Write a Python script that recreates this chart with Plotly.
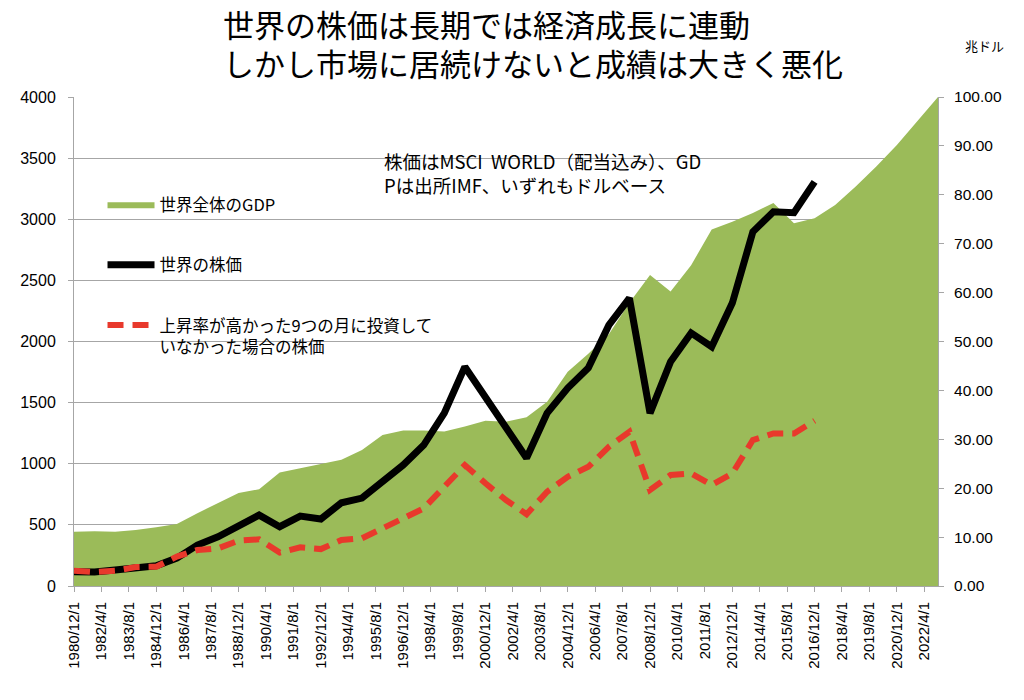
import plotly.graph_objects as go

# ── Data ─────────────────────────────────────────────────────────────────────
years = [1980, 1981, 1982, 1983, 1984, 1985, 1986, 1987, 1988, 1989,
         1990, 1991, 1992, 1993, 1994, 1995, 1996, 1997, 1998, 1999,
         2000, 2001, 2002, 2003, 2004, 2005, 2006, 2007, 2008, 2009,
         2010, 2011, 2012, 2013, 2014, 2015, 2016, 2017, 2018, 2019,
         2020, 2021, 2022]

# world GDP, trillion USD (right axis)
gdp = [11.1, 11.2, 11.1, 11.45, 12.0, 12.7, 14.9, 17.0, 19.0, 19.8,
       23.2, 24.1, 24.9, 25.8, 27.8, 30.9, 31.8, 31.8, 31.6, 32.6,
       33.8, 33.6, 34.5, 37.7, 43.8, 47.5, 51.5, 57.9, 63.6, 60.2,
       65.6, 72.9, 74.5, 76.3, 78.3, 74.2, 75.2, 77.9, 81.7, 85.8,
       90.2, 95.0, 100.0]

# world stock index (MSCI WORLD incl. dividends), left axis, 1980-2016
stock = [117, 115, 130, 155, 166, 228, 335, 403, 499, 580,
         485, 572, 548, 681, 719, 853, 989, 1153, 1414, 1793,
         1548, 1303, 1047, 1414, 1619, 1783, 2134, 2355, 1414, 1834,
         2070, 1957, 2314, 2897, 3061, 3053, 3306]

# same index, skipping the 9 best months
stock_ex9 = [125, 114, 125, 155, 158, 240, 294, 308, 371, 382,
             273, 316, 302, 376, 390, 472, 545, 635, 812, 989,
             840, 703, 587, 771, 894, 975, 1139, 1262, 785, 908,
             921, 826, 921, 1194, 1248, 1248, 1352]

tick_dates = ['1980-12-01', '1982-04-01', '1983-08-01', '1984-12-01',
              '1986-04-01', '1987-08-01', '1988-12-01', '1990-04-01',
              '1991-08-01', '1992-12-01', '1994-04-01', '1995-08-01',
              '1996-12-01', '1998-04-01', '1999-08-01', '2000-12-01',
              '2002-04-01', '2003-08-01', '2004-12-01', '2006-04-01',
              '2007-08-01', '2008-12-01', '2010-04-01', '2011-08-01',
              '2012-12-01', '2014-04-01', '2015-08-01', '2016-12-01',
              '2018-04-01', '2019-08-01', '2020-12-01', '2022-04-01']
tick_text = ['1980/12/1', '1982/4/1', '1983/8/1', '1984/12/1',
             '1986/4/1', '1987/8/1', '1988/12/1', '1990/4/1',
             '1991/8/1', '1992/12/1', '1994/4/1', '1995/8/1',
             '1996/12/1', '1998/4/1', '1999/8/1', '2000/12/1',
             '2002/4/1', '2003/8/1', '2004/12/1', '2006/4/1',
             '2007/8/1', '2008/12/1', '2010/4/1', '2011/8/1',
             '2012/12/1', '2014/4/1', '2015/8/1', '2016/12/1',
             '2018/4/1', '2019/8/1', '2020/12/1', '2022/4/1']

title_lines = ['世界の株価は長期では経済成長に連動',
               'しかし市場に居続けないと成績は大きく悪化']

# ── Style ────────────────────────────────────────────────────────────────────
_GREEN = '#9bbb59'
_BLACK = '#000000'
_RED = '#e8392c'
_GRID = '#a6a6a6'
_JP = 'Noto Sans CJK JP'
_NUM = 'Liberation Sans'

xs = [f'{y}-12-01' for y in years]
xs_stock = xs[:len(stock)]

fig = go.Figure()

# GDP area on the main y axis (shown on the right) so it stays under the lines
fig.add_trace(go.Scatter(
    x=xs, y=gdp, name='世界全体のGDP',
    mode='lines', fill='tozeroy', fillcolor=_GREEN,
    line=dict(color=_GREEN, width=0),
    legendgroup='g1', yaxis='y',
))
fig.add_trace(go.Scatter(
    x=xs_stock, y=stock, name='世界の株価',
    mode='lines', line=dict(color=_BLACK, width=7),
    legendgroup='g2', yaxis='y2',
))
fig.add_trace(go.Scatter(
    x=xs_stock, y=stock_ex9,
    name='上昇率が高かった9つの月に投資して<br>いなかった場合の株価',
    mode='lines', line=dict(color=_RED, width=6, dash='16px,9px'),
    legendgroup='g3', yaxis='y2',
))

# the page body adds an 8px offset, margins are set with that in mind
fig.update_layout(
    width=1024, height=700,
    margin=dict(l=66, r=94, t=89, b=122),
    paper_bgcolor='white', plot_bgcolor='white',
    font=dict(family=_JP, color='#000000', size=15),
    showlegend=True,
    legend=dict(
        x=0.033, y=0.816, xanchor='left', yanchor='top',
        bgcolor='rgba(0,0,0,0)',
        font=dict(family=_JP, size=16.5),
        tracegroupgap=36, valign='top',
        traceorder='grouped', itemwidth=47,
    ),
    xaxis=dict(
        type='date',
        range=['1980-12-01', '2022-12-01'],
        tickmode='array', tickvals=tick_dates, ticktext=tick_text,
        tickangle=-90, tickfont=dict(family=_NUM, size=15),
        ticks='outside', ticklen=5, tickcolor=_GRID, ticklabelstandoff=4,
        showline=True, linecolor=_GRID, showgrid=False,
    ),
    yaxis=dict(
        side='right', range=[0, 100], tickmode='linear', dtick=10,
        tickformat='.2f', tickfont=dict(family=_NUM, size=15.5),
        ticks='outside', ticklen=5, tickcolor=_GRID, ticklabelstandoff=7,
        showgrid=False, showline=True, linecolor=_GRID, zeroline=False,
    ),
    yaxis2=dict(
        overlaying='y', side='left', range=[0, 4000],
        tickmode='linear', dtick=500,
        tickfont=dict(family=_NUM, size=16),
        ticks='outside', ticklen=5, tickcolor=_GRID, ticklabelstandoff=9,
        showgrid=True, gridcolor=_GRID, gridwidth=1,
        showline=True, linecolor=_GRID, zeroline=False,
    ),
)

# title, one annotation per line (left aligned)
for text, ty in zip(title_lines, [1.151, 1.070]):
    fig.add_annotation(
        text=text, xref='paper', yref='paper', x=0.170, y=ty,
        xanchor='left', yanchor='middle', align='left', showarrow=False,
        font=dict(family=_JP, size=31, color='#000000'),
    )
# right axis unit
fig.add_annotation(
    text='兆ドル', xref='paper', yref='paper', x=1.054, y=1.106,
    xanchor='center', yanchor='middle', showarrow=False,
    font=dict(family=_JP, size=13),
)
# source note
fig.add_annotation(
    text='株価はMSCI\u00a0 WORLD（配当込み）、GD<br>Pは出所IMF、いずれもドルベース',
    xref='paper', yref='paper', x=0.357, y=0.90,
    xanchor='left', yanchor='top', align='left', showarrow=False,
    font=dict(family=_JP, size=18.5),
)

fig.write_html('out.html')
